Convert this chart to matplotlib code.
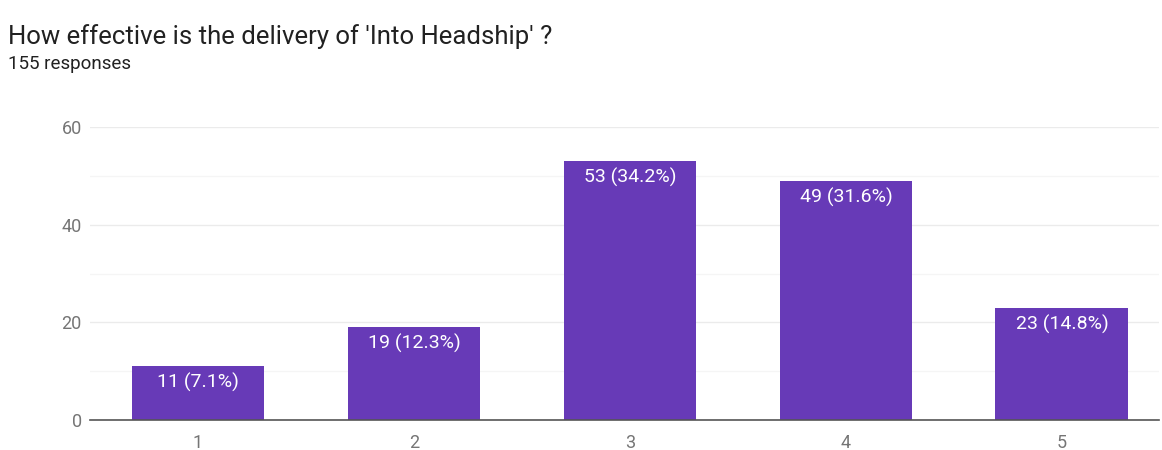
import matplotlib
matplotlib.use("Agg")
import matplotlib.pyplot as plt

# データ
categories = ["1", "2", "3", "4", "5"]
counts = [11, 19, 53, 49, 23]
percents = [7.1, 12.3, 34.2, 31.6, 14.8]
y_ticks = [0, 20, 40, 60]

plt.rcParams["font.family"] = ["Roboto", "DejaVu Sans"]

fig = plt.figure(figsize=(11.62, 4.5), dpi=100)
ax = fig.add_axes([0.0775, 0.0667, 0.92, 0.651])

x = list(range(1, len(categories) + 1))
bars = ax.bar(x, counts, width=0.615, color="#673ab7", zorder=3)

for b, c, p in zip(bars, counts, percents):
    ax.annotate(f"{c} ({p}%)", (b.get_x() + b.get_width() / 2, b.get_height()),
                xytext=(0, -5), textcoords="offset points",
                ha="center", va="top", color="white", fontsize=14, zorder=4)

ax.set_xlim(0.5, 5.45)
ax.set_ylim(0, 60)
ax.set_xticks(x)
ax.set_xticklabels(categories)
ax.set_yticks(y_ticks)
ax.set_yticks([10, 30, 50], minor=True)
ax.tick_params(axis="both", which="both", length=0, colors="#757575", labelsize=13)
ax.tick_params(axis="x", pad=10)
ax.tick_params(axis="y", pad=6)
ax.grid(axis="y", which="major", color="#ebebeb", linewidth=1, zorder=0)
ax.grid(axis="y", which="minor", color="#f5f5f5", linewidth=1, zorder=0)
for s in ["top", "right", "left"]:
    ax.spines[s].set_visible(False)
ax.spines["bottom"].set_color("#555555")
ax.spines["bottom"].set_linewidth(1.2)
ax.spines["bottom"].set_zorder(5)

fig.text(0.007, 0.918, "How effective is the delivery of 'Into Headship' ?",
         fontsize=18.5, color="#212121", va="center", ha="left")
fig.text(0.007, 0.858, "155 responses", fontsize=13.5, color="#212121",
         va="center", ha="left")

fig.savefig("out.png", dpi=100)
